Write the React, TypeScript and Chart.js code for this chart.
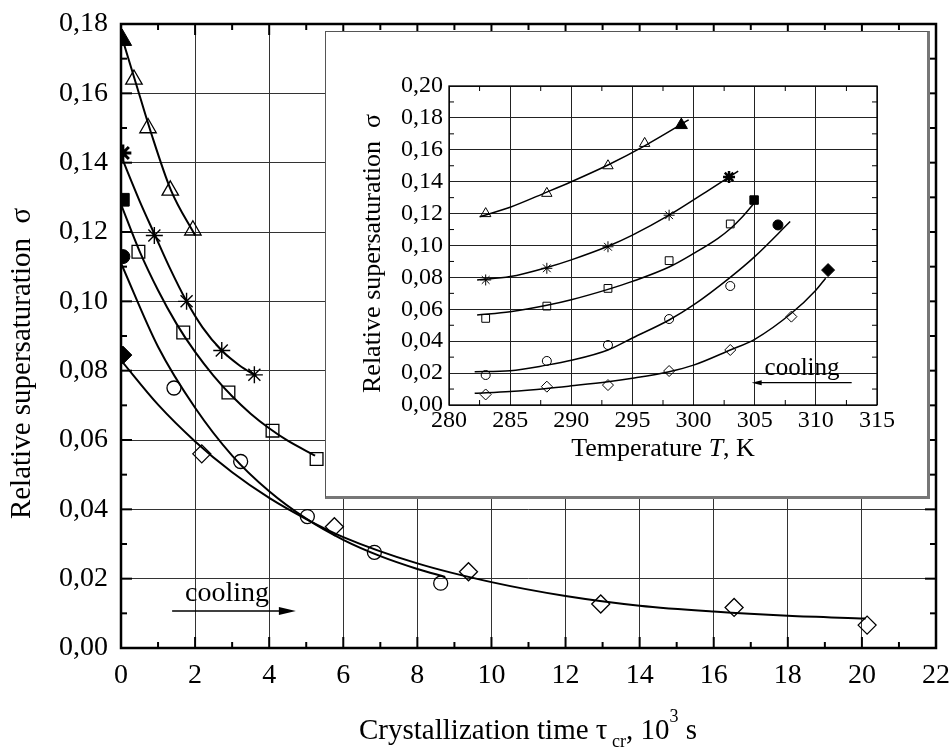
import React, { useEffect, useRef } from 'react';
import { Chart, registerables } from 'chart.js';

Chart.register(...registerables);

const FONT = '"Liberation Serif", "Times New Roman", serif';

// ---------------- main chart data ----------------
const mainXTicks = [0, 2, 4, 6, 8, 10, 12, 14, 16, 18, 20, 22];
const mainYTicks = [0, 0.02, 0.04, 0.06, 0.08, 0.1, 0.12, 0.14, 0.16, 0.18];

// open markers (crystallization time, 10^3 s ; sigma)
const triX = [0.35, 0.73, 1.33, 1.94];
const triY = [0.164, 0.15, 0.132, 0.1205];
const starX = [0.9, 1.77, 2.72, 3.6];
const starY = [0.119, 0.1, 0.0858, 0.0788];
const sqX = [0.47, 1.68, 2.9, 4.09, 5.28];
const sqY = [0.1143, 0.091, 0.0737, 0.0627, 0.0545];
const circX = [1.43, 3.23, 5.03, 6.84, 8.63];
const circY = [0.075, 0.0538, 0.0379, 0.0276, 0.0187];
const diaX = [2.18, 5.76, 9.38, 12.95, 16.55, 20.14];
const diaY = [0.056, 0.035, 0.022, 0.0127, 0.0117, 0.0066];

// filled start markers (at tau = 0)
const triFX = [0.03];
const triFY = [0.1754];
const starFX = [0.05];
const starFY = [0.1428];
const sqFX = [0.05];
const sqFY = [0.1293];
const circFX = [0.05];
const circFY = [0.1129];
const diaFX = [0.05];
const diaFY = [0.0845];

// fitted curves
const triCurveX = [0, 0.4, 0.8, 1.35, 2.0];
const triCurveY = [0.177, 0.163, 0.149, 0.132, 0.119];
const starCurveX = [0, 0.5, 0.92, 1.3, 1.77, 2.2, 2.72, 3.2, 3.65];
const starCurveY = [0.142, 0.129, 0.119, 0.11, 0.1, 0.0925, 0.0858, 0.0815, 0.0785];
const sqCurveX = [0, 0.5, 1, 1.5, 2, 2.5, 3, 3.5, 4, 4.5, 5.24];
const sqCurveY = [0.128, 0.1145, 0.1032, 0.0935, 0.0854, 0.0785, 0.0726, 0.0676, 0.0634, 0.0598, 0.0555];
const circCurveX = [0, 1, 2, 3, 4, 5, 6, 7, 8, 8.75];
const circCurveY = [0.111, 0.0869, 0.0693, 0.0555, 0.0452, 0.0373, 0.0312, 0.0265, 0.0228, 0.0205];
const diaCurveX = [0, 1, 2, 3, 4, 5, 6, 8, 10, 12, 14, 16, 18, 20.1];
const diaCurveY = [0.083, 0.0702, 0.0596, 0.0507, 0.0433, 0.0372, 0.032, 0.0244, 0.019, 0.015, 0.0122, 0.0105, 0.0093, 0.0085];

// ---------------- inset data ----------------
const inXTicks = [280, 285, 290, 295, 300, 305, 310, 315];
const inYTicks = [0, 0.02, 0.04, 0.06, 0.08, 0.1, 0.12, 0.14, 0.16, 0.18, 0.2];

const inTriT = [283, 288, 293, 296];
const inTriS = [0.12, 0.1327, 0.15, 0.164];
const inStarT = [283, 288, 293, 298];
const inStarS = [0.0784, 0.0857, 0.0992, 0.119];
const inSqT = [283, 288, 293, 298, 303];
const inSqS = [0.0543, 0.062, 0.0731, 0.0905, 0.1135];
const inCircT = [283, 288, 293, 298, 303];
const inCircS = [0.0188, 0.0276, 0.0376, 0.0539, 0.0746];
const inDiaT = [283, 288, 293, 298, 303, 308];
const inDiaS = [0.0066, 0.0115, 0.0125, 0.0213, 0.0345, 0.0554];

const inTriFT = [299];
const inTriFS = [0.1755];
const inStarFT = [302.9];
const inStarFS = [0.143];
const inSqFT = [304.95];
const inSqFS = [0.1285];
const inCircFT = [306.9];
const inCircFS = [0.1129];
const inDiaFT = [311];
const inDiaFS = [0.0846];

const inTriCurveT = [282.5, 285, 288, 290, 293, 296, 299.6];
const inTriCurveS = [0.118, 0.124, 0.1335, 0.14, 0.1505, 0.1625, 0.1787];
const inStarCurveT = [282.3, 285, 288, 290, 293, 295, 298, 301, 303.65];
const inStarCurveS = [0.0784, 0.0805, 0.0862, 0.091, 0.0995, 0.1065, 0.119, 0.1335, 0.1467];
const inSqCurveT = [282.3, 285, 288, 290, 293, 295, 298, 300, 302, 303, 304, 305];
const inSqCurveS = [0.0564, 0.0585, 0.0625, 0.066, 0.0725, 0.0775, 0.0865, 0.095, 0.1045, 0.1105, 0.118, 0.127];
const inCircCurveT = [282.1, 285, 288, 290, 293, 295, 298, 300, 303, 305, 307.9];
const inCircCurveS = [0.0209, 0.0215, 0.025, 0.028, 0.0345, 0.042, 0.0533, 0.0627, 0.08, 0.093, 0.115];
const inDiaCurveT = [282.1, 285, 288, 290, 293, 295, 298, 300, 303, 305, 308, 310, 310.8];
const inDiaCurveS = [0.0073, 0.0085, 0.0104, 0.012, 0.0146, 0.0168, 0.0209, 0.025, 0.0345, 0.0412, 0.0575, 0.072, 0.0795];

// ---------------- helpers ----------------
const pts = (xs: number[], ys: number[]) => xs.map((x, i) => ({ x, y: ys[i] }));

const curve = (xs: number[], ys: number[], w: number) => ({
  data: pts(xs, ys),
  showLine: true,
  borderColor: '#000',
  borderWidth: w,
  pointRadius: 0,
  pointHoverRadius: 0,
  cubicInterpolationMode: 'monotone',
  fill: false,
});

const marks = (xs: number[], ys: number[], style: string, r: number, filled: boolean, bw: number, clipLeft?: boolean) => {
  const ds: any = {
    data: pts(xs, ys),
    showLine: false,
    pointStyle: style,
    pointRadius: r,
    pointHoverRadius: r,
    pointBorderColor: '#000',
    pointBackgroundColor: filled ? '#000' : 'rgba(0,0,0,0)',
    pointBorderWidth: bw,
    borderColor: '#000',
  };
  if (clipLeft) ds.clip = { left: 0, top: 30, right: 30, bottom: 30 };
  return ds;
};

const fmtComma = (v: number) => Number(v).toFixed(2).replace('.', ',');

function line(ctx: CanvasRenderingContext2D, x1: number, y1: number, x2: number, y2: number) {
  ctx.beginPath();
  ctx.moveTo(x1, y1);
  ctx.lineTo(x2, y2);
  ctx.stroke();
}

function arrow(ctx: CanvasRenderingContext2D, x1: number, x2: number, y: number, headLen: number, headHalf: number, lw: number) {
  ctx.lineWidth = lw;
  const dir = Math.sign(x2 - x1);
  line(ctx, x1, y, x2 - dir * headLen * 0.6, y);
  ctx.beginPath();
  ctx.moveTo(x2, y);
  ctx.lineTo(x2 - dir * headLen, y - headHalf);
  ctx.lineTo(x2 - dir * headLen, y + headHalf);
  ctx.closePath();
  ctx.fill();
}

function frameAndTicks(
  ctx: CanvasRenderingContext2D,
  chart: any,
  xMinorStep: number,
  xMin: number,
  xMax: number,
  yMinorStep: number,
  yMax: number,
  majorX: number[],
  majorY: number[],
  majorLen: number,
  minorLen: number,
  tickW: number,
  frameW: number
) {
  const a = chart.chartArea;
  const xs = chart.scales.x;
  const ys = chart.scales.y;
  ctx.strokeStyle = '#000';
  ctx.lineWidth = tickW;
  const nx = Math.round((xMax - xMin) / xMinorStep);
  for (let k = 0; k <= nx; k++) {
    const v = xMin + k * xMinorStep;
    const isMajor = majorX.some((m) => Math.abs(m - v) < 1e-9);
    const len = isMajor ? majorLen : minorLen;
    const px = xs.getPixelForValue(v);
    line(ctx, px, a.bottom, px, a.bottom - len);
    line(ctx, px, a.top, px, a.top + len);
  }
  const ny = Math.round(yMax / yMinorStep);
  for (let k = 0; k <= ny; k++) {
    const v = k * yMinorStep;
    const isMajor = majorY.some((m) => Math.abs(m - v) < 1e-9);
    const len = isMajor ? majorLen : minorLen;
    const py = ys.getPixelForValue(v);
    line(ctx, a.left, py, a.left + len, py);
    line(ctx, a.right, py, a.right - len, py);
  }
  ctx.lineWidth = frameW;
  ctx.strokeRect(a.left, a.top, a.right - a.left, a.bottom - a.top);
}

const mainDecor = {
  id: 'mainDecor',
  afterDraw(chart: any) {
    const ctx: CanvasRenderingContext2D = chart.ctx;
    const xs = chart.scales.x;
    const ys = chart.scales.y;
    ctx.save();
    frameAndTicks(ctx, chart, 1, 0, 22, 0.01, 0.18, mainXTicks, mainYTicks, 11, 6, 2, 2.5);

    // cooling annotation
    ctx.fillStyle = '#000';
    ctx.font = `28px ${FONT}`;
    ctx.textAlign = 'center';
    ctx.textBaseline = 'alphabetic';
    ctx.fillText('cooling', xs.getPixelForValue(2.86), ys.getPixelForValue(0.0136));
    ctx.strokeStyle = '#000';
    arrow(ctx, xs.getPixelForValue(1.38), xs.getPixelForValue(4.72), ys.getPixelForValue(0.0107), 17, 4, 1.5);

    // y title
    ctx.save();
    ctx.translate(30, 363.5);
    ctx.rotate(-Math.PI / 2);
    ctx.font = `29px ${FONT}`;
    ctx.textAlign = 'center';
    ctx.fillText('Relative supersaturation  σ', 0, 0);
    ctx.restore();

    // x title with sub/superscripts
    const big = `29px ${FONT}`;
    const small = `18px ${FONT}`;
    const parts = [
      { t: 'Crystallization time τ', f: big, dy: 0 },
      { t: ' ', f: small, dy: 0 },
      { t: 'cr', f: small, dy: 8 },
      { t: ', 10', f: big, dy: 0 },
      { t: '3', f: small, dy: -17 },
      { t: ' s', f: big, dy: 0 },
    ];
    let total = 0;
    for (const p of parts) {
      ctx.font = p.f;
      total += ctx.measureText(p.t).width;
    }
    let cx = 528 - total / 2;
    ctx.textAlign = 'left';
    for (const p of parts) {
      ctx.font = p.f;
      ctx.fillText(p.t, cx, 739 + p.dy);
      cx += ctx.measureText(p.t).width;
    }
    ctx.restore();
  },
};

const insetDecor = {
  id: 'insetDecor',
  afterDraw(chart: any) {
    const ctx: CanvasRenderingContext2D = chart.ctx;
    const xs = chart.scales.x;
    const ys = chart.scales.y;
    ctx.save();
    frameAndTicks(ctx, chart, 2.5, 280, 315, 0.01, 0.2, inXTicks, inYTicks, 0, 5, 1, 1.3);

    ctx.fillStyle = '#000';
    ctx.strokeStyle = '#000';
    ctx.font = `25px ${FONT}`;
    ctx.textAlign = 'center';
    ctx.textBaseline = 'alphabetic';
    ctx.fillText('cooling', xs.getPixelForValue(308.87), ys.getPixelForValue(0.0188));
    arrow(ctx, xs.getPixelForValue(312.93), xs.getPixelForValue(304.75), ys.getPixelForValue(0.014), 10, 2.5, 1.2);

    // y title
    ctx.save();
    ctx.translate(54, 221.5);
    ctx.rotate(-Math.PI / 2);
    ctx.font = `26px ${FONT}`;
    ctx.textAlign = 'center';
    ctx.fillText('Relative supersaturation  σ', 0, 0);
    ctx.restore();

    // x title
    const parts = [
      { t: 'Temperature ', f: `26px ${FONT}` },
      { t: 'T', f: `italic 26px ${FONT}` },
      { t: ', K', f: `26px ${FONT}` },
    ];
    let total = 0;
    for (const p of parts) {
      ctx.font = p.f;
      total += ctx.measureText(p.t).width;
    }
    let cx = 337 - total / 2;
    ctx.textAlign = 'left';
    for (const p of parts) {
      ctx.font = p.f;
      ctx.fillText(p.t, cx, 424);
      cx += ctx.measureText(p.t).width;
    }
    ctx.restore();
  },
};

function makeScales(
  xMin: number, xMax: number, xTicks: number[],
  yMin: number, yMax: number, yTicks: number[],
  yWidth: number, xHeight: number, fontSize: number,
  xPad: number, yPad: number, gridColor: string,
  xFmt: (v: number) => string, yFmt: (v: number) => string
) {
  return {
    x: {
      type: 'linear',
      min: xMin,
      max: xMax,
      afterBuildTicks: (s: any) => { s.ticks = xTicks.map((value) => ({ value })); },
      afterFit: (s: any) => { s.height = xHeight; s.paddingLeft = 0; s.paddingRight = 0; },
      grid: { color: gridColor, lineWidth: 1, drawTicks: false },
      border: { display: false },
      ticks: {
        font: { family: FONT, size: fontSize },
        color: '#000',
        padding: xPad,
        maxRotation: 0,
        autoSkip: false,
        callback: (v: any) => xFmt(Number(v)),
      },
    },
    y: {
      type: 'linear',
      min: yMin,
      max: yMax,
      afterBuildTicks: (s: any) => { s.ticks = yTicks.map((value) => ({ value })); },
      afterFit: (s: any) => { s.width = yWidth; s.paddingTop = 0; s.paddingBottom = 0; },
      grid: { color: gridColor, lineWidth: 1, drawTicks: false },
      border: { display: false },
      ticks: {
        font: { family: FONT, size: fontSize },
        color: '#000',
        padding: yPad,
        autoSkip: false,
        callback: (v: any) => yFmt(Number(v)),
      },
    },
  };
}

export default function App() {
  const mainRef = useRef<HTMLCanvasElement>(null);
  const insetRef = useRef<HTMLCanvasElement>(null);

  useEffect(() => {
    const main = new Chart(mainRef.current as HTMLCanvasElement, {
      type: 'scatter',
      data: {
        datasets: [
          curve(triCurveX, triCurveY, 2),
          curve(starCurveX, starCurveY, 2),
          curve(sqCurveX, sqCurveY, 2),
          curve(circCurveX, circCurveY, 2),
          curve(diaCurveX, diaCurveY, 2),
          marks(triX, triY, 'triangle', 9.5, false, 1.3),
          marks(starX, starY, 'star', 8.5, false, 1.4),
          marks(sqX, sqY, 'rect', 9, false, 1.3),
          marks(circX, circY, 'circle', 7, false, 1.3),
          marks(diaX, diaY, 'rectRot', 9, false, 1.3),
          marks(triFX, triFY, 'triangle', 11, true, 1, true),
          marks(starFX, starFY, 'star', 8.5, true, 3, true),
          marks(sqFX, sqFY, 'rect', 9, true, 1, true),
          marks(circFX, circFY, 'circle', 7, true, 1, true),
          marks(diaFX, diaFY, 'rectRot', 9, true, 1, true),
        ] as any,
      },
      options: {
        responsive: false,
        animation: false,
        events: [],
        layout: { padding: { top: 24, right: 14, left: 0, bottom: 0 } },
        plugins: { legend: { display: false }, tooltip: { enabled: false } },
        scales: makeScales(0, 22, mainXTicks, 0, 0.18, mainYTicks, 121, 104, 28, 11, 13, '#333',
          (v) => String(v), fmtComma) as any,
      },
      plugins: [mainDecor],
    });

    const inset = new Chart(insetRef.current as HTMLCanvasElement, {
      type: 'scatter',
      data: {
        datasets: [
          curve(inTriCurveT, inTriCurveS, 1.5),
          curve(inStarCurveT, inStarCurveS, 1.5),
          curve(inSqCurveT, inSqCurveS, 1.5),
          curve(inCircCurveT, inCircCurveS, 1.5),
          curve(inDiaCurveT, inDiaCurveS, 1.5),
          marks(inTriT, inTriS, 'triangle', 6, false, 1),
          marks(inStarT, inStarS, 'star', 5.5, false, 1),
          marks(inSqT, inSqS, 'rect', 5.5, false, 1),
          marks(inCircT, inCircS, 'circle', 4.5, false, 1),
          marks(inDiaT, inDiaS, 'rectRot', 5.5, false, 1),
          marks(inTriFT, inTriFS, 'triangle', 7, true, 1),
          marks(inStarFT, inStarFS, 'star', 6, true, 2.5),
          marks(inSqFT, inSqFS, 'rect', 6, true, 1),
          marks(inCircFT, inCircFS, 'circle', 5, true, 1),
          marks(inDiaFT, inDiaFS, 'rectRot', 6.5, true, 1),
        ] as any,
      },
      options: {
        responsive: false,
        animation: false,
        events: [],
        layout: { padding: { top: 54, right: 50, left: 0, bottom: 0 } },
        plugins: { legend: { display: false }, tooltip: { enabled: false } },
        scales: makeScales(280, 315, inXTicks, 0, 0.2, inYTicks, 123, 91, 24, 1, 6, '#222',
          (v) => String(v), fmtComma) as any,
      },
      plugins: [insetDecor],
    });

    return () => {
      main.destroy();
      inset.destroy();
    };
  }, []);

  return (
    <div style={{ position: 'fixed', left: 0, top: 0, width: 950, height: 752, background: '#fff', overflow: 'hidden' }}>
      <canvas ref={mainRef} width={950} height={752} style={{ position: 'absolute', left: 0, top: 0, width: 950, height: 752 }} />
      <div
        style={{
          position: 'absolute',
          left: 325,
          top: 31,
          width: 601,
          height: 464,
          background: '#fff',
          borderTop: '1px solid #555',
          borderLeft: '1px solid #555',
          borderRight: '3px solid #777',
          borderBottom: '3px solid #777',
        }}
      >
        <canvas ref={insetRef} width={601} height={464} style={{ position: 'absolute', left: 0, top: 0, width: 601, height: 464 }} />
      </div>
    </div>
  );
}
